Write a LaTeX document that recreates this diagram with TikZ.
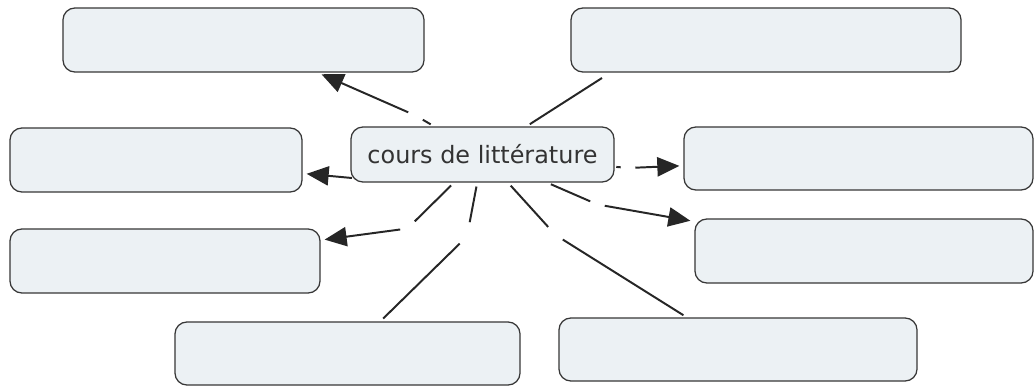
\documentclass[tikz,border=0pt]{standalone}
\usepackage{fontspec}
\setmainfont{DejaVu Sans}
\usetikzlibrary{arrows.meta}
\definecolor{conceptfill}{RGB}{236,241,244}
\definecolor{conceptline}{RGB}{55,55,55}

\begin{document}
\begin{tikzpicture}[x=0.025cm, y=-0.025cm,
    concept/.style={draw=conceptline, line width=0.9pt, fill=conceptfill, rounded corners=0.3cm, inner sep=0pt},
    link/.style={inner sep=0pt, minimum width=0.35cm, minimum height=0.7cm},
    conn/.style={line width=1.4pt, black!85},
    arr/.style={conn, -{Triangle[length=0.55cm,width=0.48cm]}, shorten >=0.1cm}]
    \useasboundingbox (0,0) rectangle (1034,387);

    \node[concept, minimum width=6.575cm, minimum height=1.375cm, text=black!80, font=\fontsize{17}{20}\selectfont] (cours) at (482.5,154.5) {cours de littérature};

    \node[concept, minimum width=9.025cm, minimum height=1.6cm] (hautg) at (243.5,40) {};
    \node[concept, minimum width=9.75cm, minimum height=1.6cm] (hautd) at (766,40) {};
    \node[concept, minimum width=7.3cm, minimum height=1.6cm] (milg) at (156,160) {};
    \node[concept, minimum width=7.75cm, minimum height=1.6cm] (basg) at (165,261) {};
    \node[concept, minimum width=8.725cm, minimum height=1.575cm] (mild) at (858.5,158.5) {};
    \node[concept, minimum width=8.45cm, minimum height=1.6cm] (basd) at (864,251) {};
    \node[concept, minimum width=8.625cm, minimum height=1.575cm] (piedg) at (347.5,353.5) {};
    \node[concept, minimum width=8.95cm, minimum height=1.575cm] (piedd) at (738,349.5) {};

    \node[link] (l1) at (415.5,115.5) {};
    \node[link] (l4) at (407.5,228.5) {};
    \node[link] (l5) at (467,236.5) {};
    \node[link] (l6) at (555.5,235) {};
    \node[link] (l7) at (597.5,204.5) {};
    \node[link] (l8) at (628,168) {};
    \coordinate (p2) at (602,78);
    \coordinate (p3) at (352,178);

    \draw[conn, shorten <=0.1cm] (cours) -- (l1);
    \draw[arr] (l1) -- (hautg);
    \draw[conn, shorten <=0.1cm] (cours) -- (p2);
    \draw[arr] (p3) -- (milg);
    \draw[conn, shorten <=0.1cm] (cours) -- (l4);
    \draw[arr] (l4) -- (basg);
    \draw[conn, shorten <=0.1cm] (cours) -- (l5);
    \draw[conn, shorten >=0.1cm] (l5) -- (piedg);
    \draw[conn, shorten <=0.1cm] (cours) -- (l6);
    \draw[conn, shorten >=0.1cm] (l6) -- (piedd);
    \draw[conn, shorten <=0.1cm] (cours) -- (l7);
    \draw[arr] (l7) -- (basd);
    \draw[conn, shorten <=0.04cm] (cours) -- (l8);
    \draw[arr] (l8) -- (mild);
\end{tikzpicture}
\end{document}
